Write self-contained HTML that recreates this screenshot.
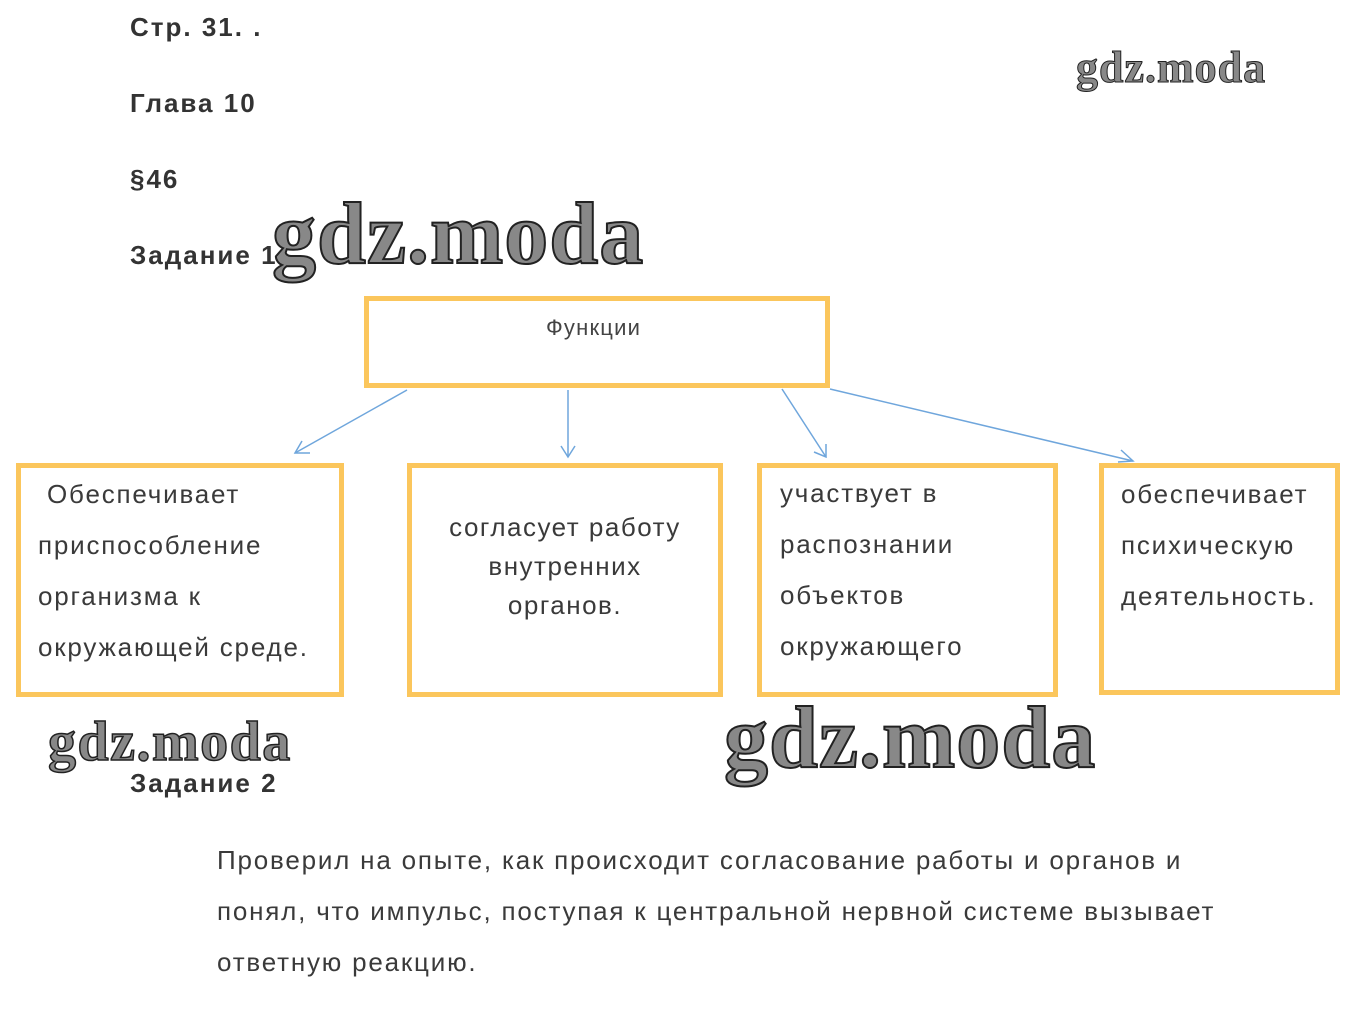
<!DOCTYPE html>
<html><head><meta charset="utf-8"><style>
body{margin:0;width:1356px;height:1035px;background:#fff;position:relative;overflow:hidden;font-family:"Liberation Sans",sans-serif;}
.a{position:absolute;}
.h{font-weight:bold;font-size:26px;color:#333;left:130px;letter-spacing:2px;}
.box{position:absolute;border:5px solid #fbc65c;box-sizing:border-box;}
.t{position:absolute;font-size:26px;color:#3a3a3a;line-height:51px;letter-spacing:1.8px;white-space:nowrap;}
.wm{position:absolute;font-family:"Liberation Serif",serif;font-weight:bold;color:#888;-webkit-text-stroke:2px #222;white-space:nowrap;}
</style></head><body>
<div class="a h" style="top:12px">Стр. 31. .</div>
<div class="a h" style="top:88px">Глава 10</div>
<div class="a h" style="top:164px">§46</div>
<div class="a h" style="top:240px">Задание 1</div>
<div class="a h" style="top:768px">Задание 2</div>

<div class="box" style="left:364px;top:296px;width:466px;height:92px"></div>
<div class="a" style="left:546px;top:315px;font-size:22px;color:#444;letter-spacing:1.2px">Функции</div>
<div class="box" style="left:16px;top:463px;width:328px;height:234px"></div>
<div class="box" style="left:407px;top:463px;width:316px;height:234px"></div>
<div class="box" style="left:757px;top:463px;width:301px;height:234px"></div>
<div class="box" style="left:1099px;top:463px;width:241px;height:232px"></div>

<div class="t" style="left:38px;top:469px">&nbsp;Обеспечивает<br>приспособление<br>организма к<br>окружающей среде.</div>
<div class="t" style="left:407px;width:316px;top:508px;text-align:center;line-height:39px;letter-spacing:1.5px">согласует работу<br>внутренних<br>органов.</div>
<div class="t" style="left:780px;top:468px">участвует в<br>распознании<br>объектов<br>окружающего</div>
<div class="t" style="left:1121px;top:469px">обеспечивает<br>психическую<br>деятельность.</div>

<svg class="a" style="left:0;top:0" width="1356" height="1035">
<g stroke="#6fa6dc" stroke-width="1.5" fill="none">
<line x1="407" y1="390" x2="295" y2="453"/><polyline points="302,441 295,453 310,453"/>
<line x1="568" y1="390" x2="568" y2="457"/><polyline points="561,446 568,457 575,446"/>
<line x1="782" y1="389" x2="826" y2="457"/><polyline points="826,444 826,457 814,452"/>
<line x1="830" y1="389" x2="1133" y2="461"/><polyline points="1121,450 1133,461 1118,462"/>
</g></svg>

<div class="t" style="left:217px;top:835px">Проверил на опыте, как происходит согласование работы и органов и<br>понял, что импульс, поступая к центральной нервной системе вызывает<br>ответную реакцию.</div>

<div class="wm" style="left:1076px;top:42px;font-size:44px;letter-spacing:1px;-webkit-text-stroke:1px #222">gdz.moda</div>
<div class="wm" style="left:272px;top:184px;font-size:88px;letter-spacing:1px">gdz.moda</div>
<div class="wm" style="left:48px;top:710px;font-size:56px;letter-spacing:1.5px;-webkit-text-stroke:1.5px #222">gdz.moda</div>
<div class="wm" style="left:724px;top:688px;font-size:88px;letter-spacing:1px">gdz.moda</div>
</body></html>
